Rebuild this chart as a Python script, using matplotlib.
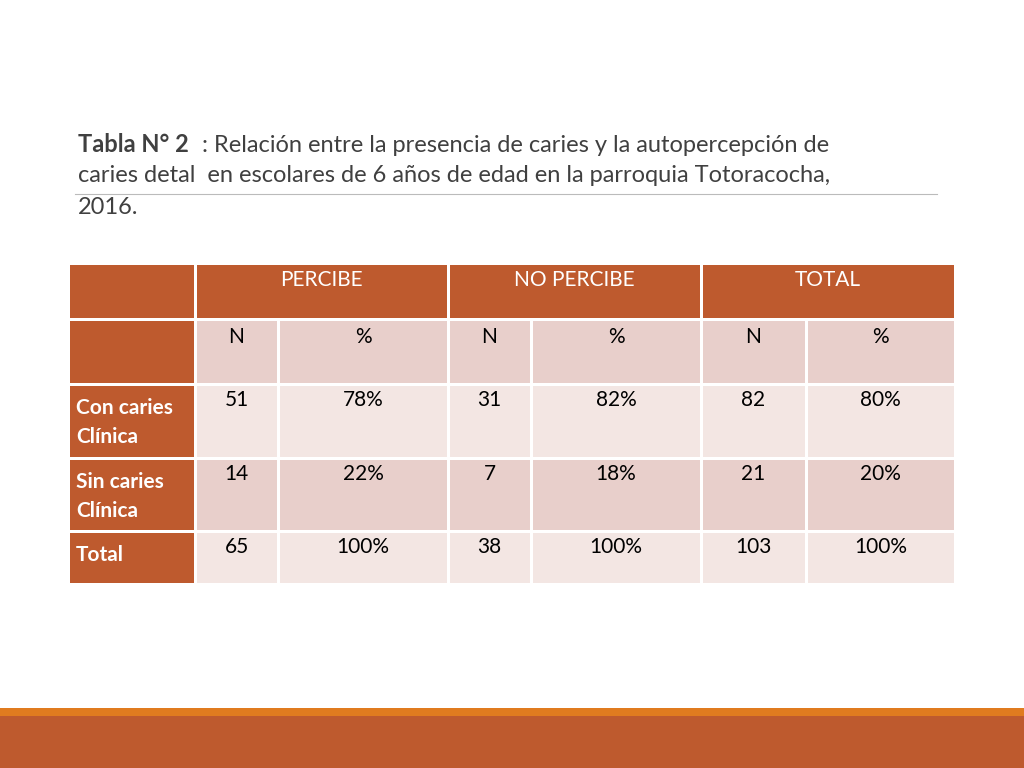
import matplotlib.pyplot as plt
from matplotlib.patches import Rectangle

groups = ["PERCIBE", "NO PERCIBE", "TOTAL"]
subheads = ["N", "%", "N", "%", "N", "%"]
row_labels = ["Con caries\nClínica", "Sin caries\nClínica", "Total"]
n_percibe = [51, 14, 65]
pct_percibe = ["78%", "22%", "100%"]
n_no = [31, 7, 38]
pct_no = ["82%", "18%", "100%"]
n_total = [82, 21, 103]
pct_total = ["80%", "20%", "100%"]

BROWN = "#BE5A2E"
DARK = "#E8CFCB"
LIGHT = "#F3E6E3"
plt.rcParams["font.family"] = "Lato"

fig = plt.figure(figsize=(10.24, 7.68), dpi=100)
ax = fig.add_axes([0, 0, 1, 1])
ax.set_xlim(0, 1024)
ax.set_ylim(768, 0)
ax.axis("off")

# title
ax.text(78, 145, "Tabla N° 2", fontsize=17, fontweight="bold", va="center", color="#404040")
ax.text(78 + 124, 145, ": Relación entre la presencia de caries y la autopercepción de",
        fontsize=17, va="center", color="#404040")
ax.text(78, 176, "caries detal  en escolares de 6 años de edad en la parroquia Totoracocha,",
        fontsize=17, va="center", color="#404040")
ax.text(78, 207, "2016.", fontsize=17, va="center", color="#404040")
ax.plot([75, 937], [194, 194], color="#BBBBBB", lw=0.8)

cols = [68, 195, 278, 448, 531, 701, 806, 955]
rows = [263, 319, 384, 458, 531, 584]
gap = 1.5

def cell(x0, x1, y0, y1, color):
    ax.add_patch(Rectangle((x0 + gap, y0 + gap), x1 - x0 - 2 * gap, y1 - y0 - 2 * gap,
                           facecolor=color, edgecolor="none"))

# header row
cell(cols[0], cols[1], rows[0], rows[1], BROWN)
for i, g in enumerate(groups):
    x0, x1 = cols[1 + 2 * i], cols[3 + 2 * i]
    cell(x0, x1, rows[0], rows[1], BROWN)
    ax.text(x0 + (x1 - x0) / 2, rows[0] + 17, g, color="white", fontsize=15,
            ha="center", va="center")

# subheader row
cell(cols[0], cols[1], rows[1], rows[2], BROWN)
for j, s in enumerate(subheads):
    x0, x1 = cols[1 + j], cols[2 + j]
    cell(x0, x1, rows[1], rows[2], DARK)
    ax.text((x0 + x1) / 2, rows[1] + 18, s, fontsize=15, ha="center", va="center", color="black")

# body
body = list(zip(n_percibe, pct_percibe, n_no, pct_no, n_total, pct_total))
for r, label in enumerate(row_labels):
    y0, y1 = rows[2 + r], rows[3 + r]
    cell(cols[0], cols[1], y0, y1, BROWN)
    ax.text(cols[0] + 8, y0 + 14, label, color="white", fontsize=15, fontweight="bold",
            va="top", linespacing=1.55)
    fill = LIGHT if r % 2 == 0 else DARK
    for j, v in enumerate(body[r]):
        x0, x1 = cols[1 + j], cols[2 + j]
        cell(x0, x1, y0, y1, fill)
        ax.text((x0 + x1) / 2, y0 + 16, str(v), fontsize=15, ha="center", va="center", color="black")

# bottom bars
ax.add_patch(Rectangle((0, 708), 1024, 8, facecolor="#E07B1F", edgecolor="none"))
ax.add_patch(Rectangle((0, 716), 1024, 52, facecolor=BROWN, edgecolor="none"))

fig.savefig("out.png", dpi=100)
